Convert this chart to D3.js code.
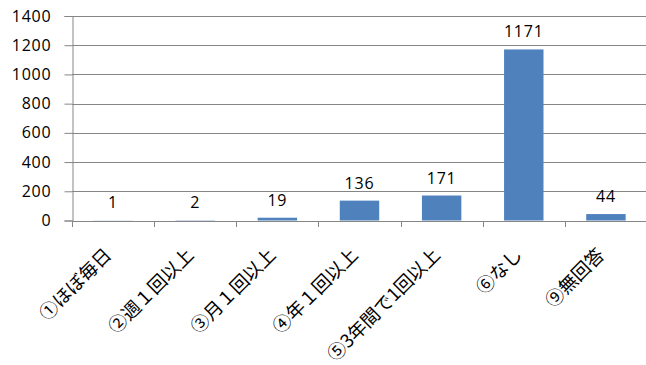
<!DOCTYPE html>
<html>
<head>
<meta charset="utf-8">
<script src="https://cdn.jsdelivr.net/npm/d3@7/dist/d3.min.js"></script>
<style>
  body { margin: 0; background: #fff; }
  svg { display: block; }
</style>
</head>
<body>
<svg id="chart" width="646" height="365"></svg>
<script>
// Survey responses: frequency categories and counts
const categories = ["①ほぼ毎日", "②週１回以上", "③月１回以上", "④年１回以上", "⑤3年間で1回以上", "⑥なし", "⑨無回答"];
const counts = [1, 2, 19, 136, 171, 1171, 44];
const yTicks = [0, 200, 400, 600, 800, 1000, 1200, 1400];

const width = 646, height = 365;
const margin = { top: 16, right: -1, bottom: 145, left: 72 };

const svg = d3.select("#chart");

const x = d3.scaleBand()
  .domain(categories)
  .range([margin.left, width - margin.right])
  .paddingInner(0.52)
  .paddingOuter(0.26);

const y = d3.scaleLinear()
  .domain([0, 1400])
  .range([height - margin.bottom + 0.5, margin.top]);

const axisColor = "#868686";
const numFont = "'Open Sans', sans-serif";
const jpFont = "'Noto Sans CJK JP', sans-serif";

// Horizontal gridlines
svg.append("g")
  .selectAll("line")
  .data(yTicks.filter(d => d > 0))
  .join("line")
  .attr("x1", margin.left)
  .attr("x2", width)
  .attr("y1", d => Math.round(y(d)) + 0.5)
  .attr("y2", d => Math.round(y(d)) + 0.5)
  .attr("stroke", axisColor)
  .attr("stroke-width", 1);

// Y axis
const yAxis = svg.append("g")
  .attr("transform", `translate(${margin.left + 0.5},0)`)
  .call(d3.axisLeft(y).tickValues(yTicks).tickFormat(d3.format("d")).tickSize(8).tickPadding(13));
yAxis.select(".domain").attr("stroke", axisColor);
yAxis.selectAll(".tick line").attr("stroke", axisColor);
yAxis.selectAll(".tick text")
  .attr("fill", "#000")
  .style("font-family", numFont)
  .style("font-size", "16px")
  .style("letter-spacing", "0.8px");

// Bars
svg.append("g")
  .selectAll("rect")
  .data(counts)
  .join("rect")
  .attr("x", (d, i) => x(categories[i]))
  .attr("width", x.bandwidth())
  .attr("y", d => y(d))
  .attr("height", d => y(0) - y(d))
  .attr("fill", "#4F81BD");

// Value labels above bars
svg.append("g")
  .selectAll("text")
  .data(counts)
  .join("text")
  .attr("x", (d, i) => x(categories[i]) + x.bandwidth() / 2)
  .attr("y", d => y(d) - 12)
  .attr("text-anchor", "middle")
  .style("font-family", numFont)
  .style("font-size", "16px")
  .style("letter-spacing", "0.8px")
  .attr("fill", "#000")
  .text(d => d);

// X axis with ticks at category boundaries
const step = x.step();
const x0 = margin.left;
const boundaries = d3.range(categories.length + 1).map(i => x0 + i * step);
const xAxisG = svg.append("g");
xAxisG.append("line")
  .attr("x1", margin.left)
  .attr("x2", width)
  .attr("y1", Math.round(y(0)) + 0.5)
  .attr("y2", Math.round(y(0)) + 0.5)
  .attr("stroke", axisColor);
xAxisG.selectAll("line.tick")
  .data(boundaries)
  .join("line")
  .attr("class", "tick")
  .attr("x1", d => Math.round(d) + 0.5)
  .attr("x2", d => Math.round(d) + 0.5)
  .attr("y1", Math.round(y(0)))
  .attr("y2", Math.round(y(0)) + 6)
  .attr("stroke", axisColor);

// Rotated category labels
xAxisG.selectAll("text")
  .data(categories)
  .join("text")
  .attr("transform", d => `translate(${x(d) + x.bandwidth() / 2 - 5},${y(0) + 31}) rotate(-45)`)
  .attr("text-anchor", "end")
  .attr("dy", "0.35em")
  .style("font-family", jpFont)
  .style("font-size", "18.5px")
  .attr("fill", "#000")
  .text(d => d);
</script>
</body>
</html>
